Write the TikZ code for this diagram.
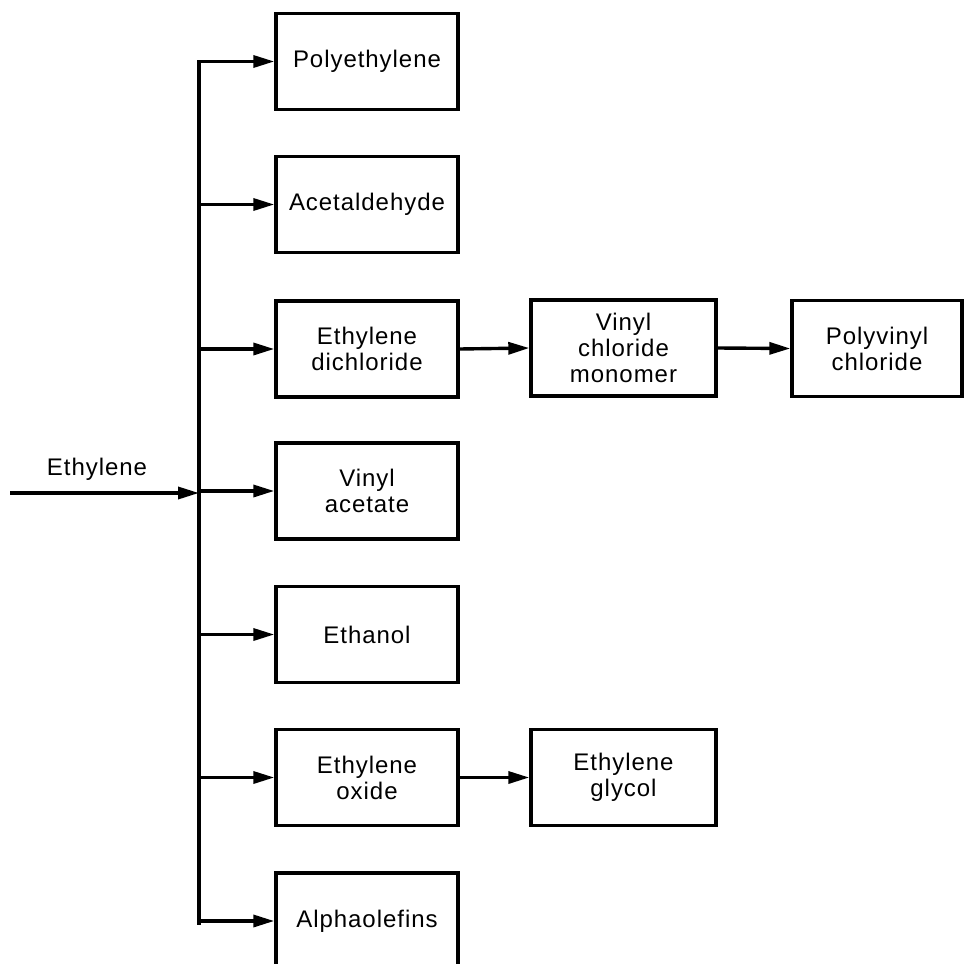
\documentclass[tikz,border=0pt]{standalone}
\usepackage{fontspec}
\setmainfont{Liberation Sans}[LetterSpace=4]
\usetikzlibrary{arrows.meta}
\begin{document}
\begin{tikzpicture}[x=1pt,y=-1pt,
  box/.style={draw,line width=3.4pt,minimum width=182pt,minimum height=96pt,align=center,inner sep=0pt,
    font=\fontsize{24}{26}\selectfont},
  flow/.style={line width=3.4pt,-{Triangle[length=21pt,width=12pt]}},
  trunk/.style={line width=3.4pt,line cap=rect}]
\clip (0,0) rectangle (965,963);
\useasboundingbox (0,0) rectangle (965,963);
\node[box] (pe) at (367,61.5) {Polyethylene};
\node[box] (ac) at (367,204.5) {Acetaldehyde};
\node[box] (edc) at (367,349) {Ethylene\\dichloride};
\node[box] (va) at (367,491) {Vinyl\\acetate};
\node[box] (et) at (367,634.5) {Ethanol};
\node[box] (eo) at (367,777.5) {Ethylene\\oxide};
\node[box] (ao) at (367,921) {Alphaolefins};
\node[box,minimum width=185pt] (vcm) at (623.5,348) {Vinyl\\chloride\\monomer};
\node[box,minimum width=170pt] (pvc) at (877,348.5) {Polyvinyl\\chloride};
\node[box,minimum width=185pt] (eg) at (623.5,777.5) {Ethylene\\glycol};
\node[font=\fontsize{24}{26}\selectfont] (lab) at (97,469) {Ethylene};
\coordinate (tt) at (199,62);
\coordinate (tb) at (199,923);
\coordinate (in) at (10,493);
\coordinate (j) at (199,493);
\draw[trunk] (tt) -- (tb);
\draw[flow] (in) -- (j);
\foreach \n in {pe,ac,edc,va,et,eo,ao}
  \draw[flow] (tt |- \n.west) -- (\n.west);
\draw[flow] (edc.east) -- (vcm.west);
\draw[flow] (vcm.east) -- (pvc.west);
\draw[flow] (eo.east) -- (eg.west);
\end{tikzpicture}
\end{document}
